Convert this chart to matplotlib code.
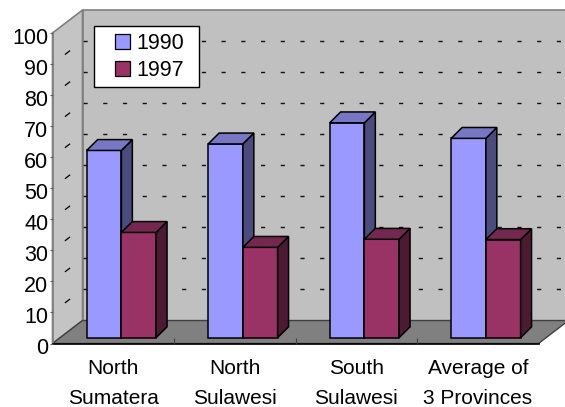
import matplotlib
matplotlib.use('Agg')
import matplotlib.pyplot as plt
import matplotlib.transforms as mtransforms
from matplotlib.patches import Polygon, Patch, Rectangle

plt.rcParams['font.family'] = ['Liberation Sans', 'DejaVu Sans']

categories = ['North\nSumatera', 'North\nSulawesi', 'South\nSulawesi', 'Average of\n3 Provinces']
years = ['1990', '1997']
v1990 = [60.3, 62.4, 69.2, 64.2]
v1997 = [33.9, 29.1, 31.7, 31.6]
yticks = [0, 10, 20, 30, 40, 50, 60, 70, 80, 90, 100]

front = ['#9999ff', '#993366']
top = ['#7777c4', '#74274f']
side = ['#4b4b7d', '#4d1a33']

# oblique depth of walls / floor, bar offset into the floor and bar depth (data units)
DX, DY = 0.247, 7.4
FX, FY = 0.067, 1.87
BX, BY = 0.09, 3.5
W = 1 / 3.5

fig = plt.figure(figsize=(5.65, 4.07), dpi=100)
ax = fig.add_axes([52.5 / 565, 1 - 343.5 / 407, 486 / 565, 310.5 / 407])
ax.set_xlim(0, 4)
ax.set_ylim(0, 100)
n = len(categories)


def poly(pts, fc, ec, lw=1.0, z=1):
    ax.add_patch(Polygon(pts, closed=True, facecolor=fc, edgecolor=ec,
                         linewidth=lw, clip_on=False, zorder=z))


# back wall, left wall, floor
poly([(DX, DY), (n + DX, DY), (n + DX, 100 + DY), (DX, 100 + DY)], '#c0c0c0', '#808080', 1.2, 0.5)
for v in yticks[1:-1]:
    ax.plot([DX, n + DX], [v + DY, v + DY], color='#111111', lw=1.0,
            linestyle=(0, (3, 11.2)), clip_on=False, zorder=0.6)
poly([(0, 0), (DX, DY), (DX, 100 + DY), (0, 100)], '#c4c4c4', '#808080', 1.2, 0.7)
for v in yticks[1:-1]:
    ax.plot([0.43 * DX, 0.57 * DX], [v + 0.43 * DY, v + 0.57 * DY],
            color='black', lw=0.9, clip_on=False, zorder=0.8)
poly([(0, 0), (n, 0), (n + DX, DY), (DX, DY)], '#808080', '#404040', 1.0, 0.9)

# bars
for i in range(n):
    for s, vals in enumerate([v1990, v1997]):
        x0 = i + 0.5 - W + s * W + FX
        x1 = x0 + W
        y0 = FY
        y1 = vals[i] + FY
        z = 2 + i * 2 + s
        poly([(x0, y0), (x1, y0), (x1, y1), (x0, y1)], front[s], 'black', 1.1, z)
        poly([(x1, y0), (x1 + BX, y0 + BY), (x1 + BX, y1 + BY), (x1, y1)], side[s], 'black', 1.1, z)
        poly([(x0, y1), (x1, y1), (x1 + BX, y1 + BY), (x0 + BX, y1 + BY)], top[s], 'black', 1.1, z)

# axes
for sp in ['top', 'right']:
    ax.spines[sp].set_visible(False)
ax.spines['left'].set_color('#808080')
ax.spines['left'].set_linewidth(1.2)
ax.spines['bottom'].set_color('black')
ax.spines['bottom'].set_linewidth(1.2)
ax.spines['left'].set_zorder(1)
ax.spines['bottom'].set_zorder(1)
ax.patch.set_visible(False)

ax.set_yticks(yticks)
ax.set_yticklabels([str(t) for t in yticks])
ax.tick_params(axis='y', length=2.5, width=0.8, color='#606060', pad=0.5, labelsize=15.5)
shift = mtransforms.ScaledTranslation(0, -3 / 100, fig.dpi_scale_trans)
for lab in ax.get_yticklabels():
    lab.set_transform(lab.get_transform() + shift)
ax.set_xticks([i + 0.5 for i in range(n)])
ax.set_xticklabels(categories, linespacing=1.75)
ax.set_xticks(range(1, n), minor=True)
ax.tick_params(axis='x', which='major', length=0, pad=11, labelsize=15)
ax.tick_params(axis='x', which='minor', direction='in', length=4, width=0.8, color='#404040')

# legend
ax.add_patch(Rectangle((94 / 565, 1 - 87 / 407), 105 / 565, 61 / 407, transform=fig.transFigure,
                       facecolor='white', edgecolor='black', lw=1, clip_on=False, zorder=20))
handles = [Patch(facecolor=front[0], edgecolor='black', lw=0.9),
           Patch(facecolor=front[1], edgecolor='black', lw=0.9)]
leg = ax.legend(handles, years, loc='center', bbox_to_anchor=(149.5 / 565, 1 - 57 / 407),
                bbox_transform=fig.transFigure, frameon=False, fontsize=15.5,
                handlelength=0.7, handleheight=0.7, handletextpad=0.3,
                labelspacing=0.3, borderpad=0)
leg.set_zorder(30)

fig.savefig('out.png', dpi=100)
